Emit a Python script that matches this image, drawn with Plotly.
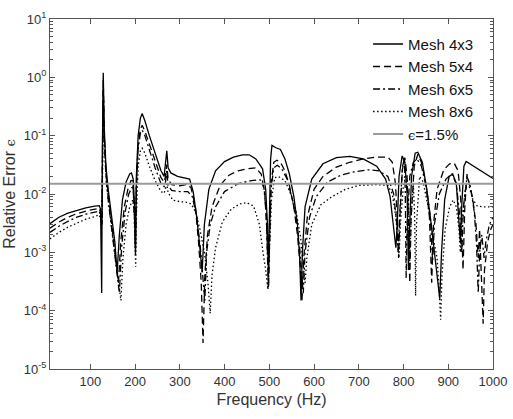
import plotly.graph_objects as go

# ---- data ----
f_43 = [10, 30, 50, 70, 90, 110, 120, 123, 125.5, 127, 129, 131, 135, 140, 148, 155, 160, 165, 172, 180, 188, 192, 196, 199, 201, 203, 207, 212, 216, 222, 232, 245, 258, 265, 268, 271, 274, 280, 295, 310, 322, 330, 338, 345, 350, 355, 365, 380, 400, 420, 440, 455, 470, 485, 492, 496, 498, 500, 503, 506, 515, 525, 535, 545, 555, 563, 568, 571, 574, 580, 595, 620, 650, 680, 710, 740, 760, 770, 778, 783, 786, 790, 797, 803, 808, 811, 813, 818, 826, 832, 842, 852, 862, 870, 877, 881, 885, 892, 902, 910, 918, 924, 927, 930, 935, 940, 960, 980, 1000]
e_43 = [0.0031, 0.0040, 0.0047, 0.0053, 0.0058, 0.0062, 0.0063, 0.0055, 0.0002, 0.05, 1.2, 0.15, 0.03, 0.012, 0.004, 0.0015, 0.00045, 0.002, 0.008, 0.016, 0.022, 0.023, 0.018, 0.006, 0.0009, 0.02, 0.1, 0.2, 0.24, 0.18, 0.1, 0.05, 0.025, 0.02, 0.03, 0.055, 0.028, 0.023, 0.02, 0.019, 0.018, 0.011, 0.004, 0.0012, 0.00045, 0.003, 0.012, 0.025, 0.036, 0.043, 0.047, 0.047, 0.04, 0.027, 0.012, 0.003, 0.0004, 0.003, 0.04, 0.068, 0.062, 0.058, 0.04, 0.022, 0.009, 0.003, 0.0008, 0.00015, 0.001, 0.006, 0.018, 0.033, 0.042, 0.044, 0.04, 0.03, 0.018, 0.009, 0.003, 0.0012, 0.003, 0.02, 0.045, 0.035, 0.01, 0.0005, 0.002, 0.02, 0.05, 0.052, 0.035, 0.012, 0.003, 0.0008, 0.0003, 0.00016, 0.001, 0.008, 0.02, 0.022, 0.015, 0.004, 0.0015, 0.006, 0.03, 0.036, 0.029, 0.023, 0.0185]

f_54 = [10, 30, 50, 70, 90, 110, 120, 124, 126, 127.5, 129, 131, 135, 140, 148, 155, 163, 168, 176, 184, 191, 194, 197, 199.5, 201, 203, 207, 212, 216, 222, 232, 245, 258, 265, 268, 271, 274, 282, 300, 315, 325, 335, 342, 348, 352, 356, 362, 372, 390, 410, 430, 450, 470, 482, 490, 494, 497, 498.5, 500, 504, 510, 517, 525, 535, 545, 555, 563, 569, 573, 577, 585, 600, 620, 650, 680, 710, 740, 765, 775, 782, 786, 789, 792, 797, 803, 808, 812, 814, 817, 824, 832, 840, 850, 858, 863, 867, 875, 890, 903, 913, 922, 928, 933, 937, 942, 955, 962, 967, 970, 975, 978, 981, 988, 995, 1000]
e_54 = [0.0026, 0.0033, 0.0040, 0.0046, 0.0051, 0.0055, 0.0057, 0.0045, 0.003, 0.08, 0.9, 0.12, 0.025, 0.01, 0.003, 0.001, 0.0003, 0.0015, 0.006, 0.012, 0.017, 0.017, 0.01, 0.003, 0.0011, 0.015, 0.07, 0.13, 0.15, 0.12, 0.07, 0.035, 0.019, 0.016, 0.02, 0.032, 0.018, 0.0145, 0.0138, 0.0145, 0.013, 0.006, 0.0015, 0.0003, 0.000028, 0.0004, 0.002, 0.006, 0.014, 0.021, 0.025, 0.027, 0.028, 0.022, 0.01, 0.003, 0.0005, 0.00025, 0.001, 0.015, 0.035, 0.038, 0.035, 0.025, 0.014, 0.006, 0.002, 0.0006, 0.00014, 0.0008, 0.004, 0.012, 0.02, 0.029, 0.035, 0.04, 0.043, 0.043, 0.035, 0.015, 0.004, 0.0008, 0.004, 0.025, 0.042, 0.02, 0.002, 0.0003, 0.004, 0.03, 0.048, 0.035, 0.015, 0.004, 0.0003, 0.003, 0.012, 0.026, 0.033, 0.034, 0.025, 0.008, 0.0005, 0.006, 0.022, 0.008, 0.003, 0.0008, 0.0025, 0.0003, 0.00006, 0.0005, 0.0015, 0.0025, 0.003]

f_65 = [10, 30, 50, 70, 90, 110, 120, 124, 126, 127.5, 129, 131, 135, 140, 148, 157, 165, 170, 178, 186, 193, 196, 198.5, 201, 203, 207, 212, 216, 222, 232, 245, 258, 265, 268, 271, 274, 282, 300, 318, 328, 338, 346, 352, 356, 360, 368, 380, 400, 430, 460, 480, 488, 493, 496, 498, 500, 504, 510, 518, 528, 540, 550, 560, 568, 576, 580, 590, 605, 630, 660, 690, 720, 745, 765, 778, 785, 788, 791, 798, 802, 804, 806, 808, 814, 822, 830, 840, 852, 860, 865, 869, 880, 895, 908, 918, 926, 930, 934, 942, 950, 958, 963, 967, 970, 975, 980, 984, 992, 1000]
e_65 = [0.0022, 0.0028, 0.0034, 0.0040, 0.0045, 0.0049, 0.0051, 0.004, 0.003, 0.06, 0.7, 0.1, 0.02, 0.008, 0.0025, 0.0007, 0.0002, 0.0012, 0.005, 0.01, 0.013, 0.012, 0.005, 0.0012, 0.012, 0.06, 0.11, 0.125, 0.1, 0.055, 0.028, 0.015, 0.0134, 0.016, 0.025, 0.014, 0.0115, 0.011, 0.011, 0.009, 0.004, 0.0012, 0.0004, 0.00015, 0.001, 0.003, 0.006, 0.011, 0.015, 0.017, 0.0175, 0.013, 0.005, 0.001, 0.00025, 0.001, 0.012, 0.028, 0.031, 0.027, 0.018, 0.009, 0.004, 0.0012, 0.0002, 0.001, 0.004, 0.009, 0.016, 0.021, 0.024, 0.026, 0.025, 0.02, 0.01, 0.003, 0.001, 0.004, 0.03, 0.04, 0.01, 0.00036, 0.003, 0.02, 0.035, 0.04, 0.03, 0.012, 0.004, 0.0007, 0.003, 0.01, 0.018, 0.022, 0.015, 0.004, 0.001, 0.006, 0.02, 0.013, 0.005, 0.0015, 0.0002, 0.001, 0.002, 0.0008, 0.0015, 0.003, 0.004]

f_86 = [10, 30, 50, 70, 90, 110, 120, 124, 126, 128, 129.5, 131.5, 136, 142, 150, 160, 168.5, 173, 180, 188, 195, 198, 200, 201.5, 203, 207, 212, 216, 222, 232, 245, 258, 265, 268, 271, 274, 285, 300, 315, 325, 335, 345, 355, 363, 368, 372, 380, 395, 415, 435, 450, 465, 478, 486, 492, 497, 500, 505, 512, 520, 535, 548, 560, 570, 576, 580, 584, 595, 615, 640, 670, 700, 740, 765, 775, 783, 790, 793, 800, 806, 811, 814, 817, 822, 825, 827, 829, 836, 844, 855, 865, 875, 880, 883, 886, 893, 903, 911, 918, 924, 927, 930, 938, 945, 955, 965, 980, 1000]
e_86 = [0.0017, 0.0022, 0.0027, 0.0032, 0.0037, 0.0041, 0.0044, 0.0035, 0.003, 0.05, 0.45, 0.08, 0.015, 0.006, 0.002, 0.0005, 0.00015, 0.0008, 0.003, 0.006, 0.0079, 0.005, 0.0015, 0.00056, 0.004, 0.03, 0.055, 0.061, 0.05, 0.03, 0.017, 0.011, 0.0103, 0.012, 0.015, 0.0105, 0.0078, 0.0074, 0.0072, 0.0068, 0.005, 0.0025, 0.001, 0.0003, 0.00009, 0.0004, 0.0012, 0.0033, 0.0055, 0.0068, 0.0071, 0.0062, 0.003, 0.001, 0.0005, 0.00023, 0.001, 0.008, 0.019, 0.02, 0.017, 0.01, 0.005, 0.0018, 0.0006, 0.0003, 0.0008, 0.003, 0.0065, 0.009, 0.012, 0.014, 0.0145, 0.014, 0.01, 0.004, 0.0008, 0.003, 0.015, 0.02, 0.008, 0.0007, 0.004, 0.015, 0.004, 0.00018, 0.003, 0.02, 0.016, 0.006, 0.002, 0.0008, 0.0002, 0.00007, 0.0004, 0.0025, 0.006, 0.0079, 0.006, 0.0025, 0.001, 0.003, 0.012, 0.015, 0.008, 0.0062, 0.006, 0.006]

threshold = 0.015
threshold_f = [10, 1000]

x_ticks = [100, 200, 300, 400, 500, 600, 700, 800, 900, 1000]
y_exponents = [-5, -4, -3, -2, -1, 0, 1]

names = ["Mesh 4x3", "Mesh 5x4", "Mesh 6x5", "Mesh 8x6"]
series = [(f_43, e_43), (f_54, e_54), (f_65, e_65), (f_86, e_86)]
dashes = ["solid", "7px,4px", "7px,3px,2px,3px", "1.5px,2.5px"]

y_tickvals = [10.0 ** k for k in y_exponents]
y_ticktext = ["10<sup>%d</sup>" % k for k in y_exponents]
y_minor = [m * 10.0 ** k for k in y_exponents[:-1] for m in range(2, 10)]

fig = go.Figure()
for name, (fx, ey), d in zip(names, series, dashes):
    fig.add_trace(go.Scatter(x=fx, y=ey, mode="lines", name=name,
                             line=dict(color="black", width=1.3, dash=d)))
fig.add_trace(go.Scatter(x=threshold_f, y=[threshold] * len(threshold_f), mode="lines",
                         name="<span style='font-family:DejaVu Serif;font-size:13px'>ϵ</span>=1.5%",
                         line=dict(color="#9a9a9a", width=2)))

axis_col = "#555555"
txt_col = "#333333"
fig.update_layout(
    width=513, height=419,
    margin=dict(l=50, r=20, t=19, b=50),
    paper_bgcolor="white", plot_bgcolor="white",
    font=dict(family="Liberation Sans, Arial", size=13, color=txt_col),
    showlegend=True,
    legend=dict(x=0.718, y=0.975, xanchor="left", yanchor="top",
                bgcolor="rgba(0,0,0,0)", font=dict(size=15, color="#111111"),
                tracegroupgap=0, itemwidth=30),
    xaxis=dict(range=[10, 1000], tickvals=x_ticks, automargin=False,
               ticks="inside", ticklen=5, tickcolor=axis_col, showline=True, linecolor=axis_col,
               linewidth=1, mirror="ticks", showgrid=False, zeroline=False,
               title=dict(text="Frequency (Hz)", font=dict(size=16), standoff=6),
               tickfont=dict(size=13)),
    yaxis=dict(type="log", range=[-5, 1], tickvals=y_tickvals, ticktext=y_ticktext,
               automargin=False,
               ticks="inside", ticklen=5, tickcolor=axis_col, showline=True, linecolor=axis_col,
               linewidth=1, mirror="ticks", showgrid=False, zeroline=False,
               minor=dict(ticks="inside", ticklen=3, tickcolor=axis_col, tickwidth=1,
                          tickvals=y_minor, showgrid=False),
               title=dict(text="Relative Error <span style='font-family:DejaVu Serif;font-size:13px'>ϵ</span>",
                          font=dict(size=16), standoff=4),
               tickfont=dict(size=13)),
)

fig.write_html("out.html")
